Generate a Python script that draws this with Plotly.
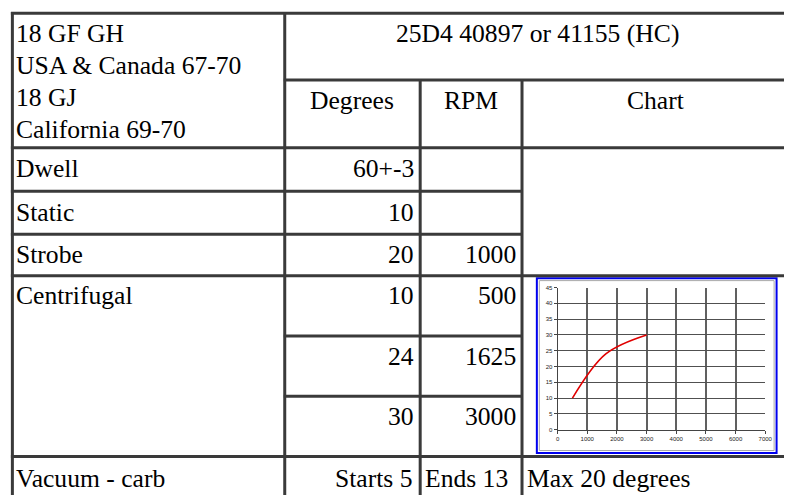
import plotly.graph_objects as go

W, H = 791, 498

# ---- data ----
model_lines = ["18 GF GH", "USA & Canada 67-70", "18 GJ", "California 69-70"]
distributor = "25D4 40897 or 41155 (HC)"
col_headers = ["Degrees", "RPM", "Chart"]
row_labels = ["Dwell", "Static", "Strobe", "Centrifugal", "Vacuum - carb"]
degrees_col = ["60+-3", "10", "20", "10", "24", "30", "Starts 5"]
rpm_col = ["", "", "1000", "500", "1625", "3000", "Ends 13"]
chart_note = "Max 20 degrees"
curve_rpm = [500, 1625, 3000]
curve_deg = [10, 24, 30]
x_ticks = [0, 1000, 2000, 3000, 4000, 5000, 6000, 7000]
y_ticks = [0, 5, 10, 15, 20, 25, 30, 35, 40, 45]


def px(x):
    return x / W


def py(y):
    return 1 - y / H


fig = go.Figure()
fig.add_trace(go.Scatter(x=curve_rpm, y=curve_deg, mode="lines",
                         line=dict(color="#e00000", width=1.6, shape="spline", smoothing=1.0),
                         showlegend=False, hoverinfo="skip"))

shapes = []
LC = "#3a3a3a"
LW = 3


def hline(y, x0, x1):
    shapes.append(dict(type="line", xref="paper", yref="paper", x0=px(x0), x1=px(x1),
                       y0=py(y), y1=py(y), line=dict(color=LC, width=LW)))


def vline(x, y0, y1):
    shapes.append(dict(type="line", xref="paper", yref="paper", x0=px(x), x1=px(x),
                       y0=py(y0), y1=py(y1), line=dict(color=LC, width=LW)))


hline(10.5, 9, 791)
hline(78, 285, 791)
hline(146.5, 9, 791)
hline(190.5, 9, 526)
hline(234, 9, 526)
hline(276, 9, 791)
hline(337, 285, 526)
hline(398, 285, 526)
hline(459, 9, 791)
vline(10.5, 9, 498)
vline(286, 9, 498)
vline(423, 77, 498)
vline(526, 77, 498)

# chart image frame
shapes.append(dict(type="rect", xref="paper", yref="paper", x0=px(541), x1=px(783.5),
                   y0=py(278.5), y1=py(455.5), line=dict(color="#0000ee", width=2),
                   fillcolor="white", layer="below"))
shapes.append(dict(type="rect", xref="paper", yref="paper", x0=px(543.5), x1=px(781),
                   y0=py(281), y1=py(453), line=dict(color="#a8a8a8", width=1),
                   layer="below"))

annotations = []
FONT = dict(family="Liberation Serif, Times New Roman, serif", size=25.6, color="black")


def text(t, x, y, anchor="left"):
    annotations.append(dict(text=t, xref="paper", yref="paper", x=px(x), y=py(y),
                            xanchor=anchor, yanchor="middle", showarrow=False,
                            font=FONT, borderpad=0))


for i, t in enumerate(model_lines):
    text(t, 13, [31, 63, 96, 128][i])
text(distributor, 542, 31, "center")
text(col_headers[0], 354, 99, "center")
text(col_headers[1], 474, 99, "center")
text(col_headers[2], 661, 99, "center")

row_y = [168, 212, 255, 296, 481]
for lab, y in zip(row_labels, row_y):
    text(lab, 13, y)

deg_y = [168, 212, 255, 296, 358, 419]
for i, y in enumerate(deg_y):
    text(degrees_col[i], 418, y, "right")
    if rpm_col[i]:
        text(rpm_col[i], 521, y, "right")
text(degrees_col[6], 417, 481, "right")
text(rpm_col[6], 427, 481)
text(chart_note, 530, 481)

tickfont = dict(family="Liberation Sans, Arial, sans-serif", size=6, color="#222")
fig.update_layout(
    width=W, height=H,
    margin=dict(l=0, r=0, t=0, b=0),
    paper_bgcolor="white",
    plot_bgcolor="#c0c0c0",
    shapes=shapes,
    annotations=annotations,
    xaxis=dict(domain=[px(562), px(772)], range=[0, 7000], tickvals=x_ticks,
               showgrid=True, gridcolor="#606060", gridwidth=1.5,
               zeroline=False, showline=True, linecolor="#444", linewidth=1,
               ticks="outside", ticklen=3, tickcolor="#444", tickfont=tickfont,
               fixedrange=True),
    yaxis=dict(domain=[py(432), py(288)], range=[0, 45], tickvals=y_ticks,
               showgrid=True, gridcolor="#505050", gridwidth=1,
               zeroline=False, showline=True, linecolor="#444", linewidth=1,
               ticks="outside", ticklen=3, tickcolor="#444", tickfont=tickfont,
               fixedrange=True),
)

html = fig.to_html(config={"displayModeBar": False})
html = html.replace("<head>", "<head><style>html,body{margin:0;padding:0;overflow:hidden;}</style>", 1)
with open("out.html", "w", encoding="utf-8") as f:
    f.write(html)
